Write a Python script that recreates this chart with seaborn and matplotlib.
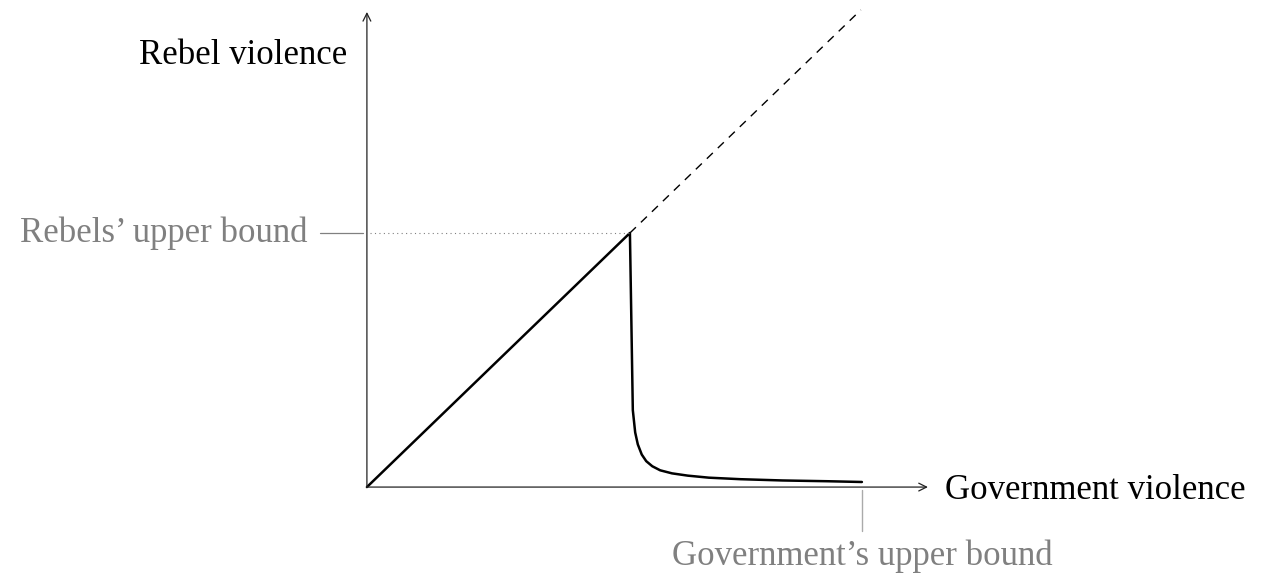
import matplotlib

matplotlib.use("Agg")

import matplotlib.pyplot as plt
import pandas as pd
import seaborn as sns

# best-response curve (government violence -> rebel violence), peak normalised to (1, 1)
gov_violence = [0.0, 1.0, 1.011, 1.020, 1.030, 1.045, 1.062, 1.085, 1.115, 1.16,
                1.22, 1.30, 1.42, 1.58, 1.75, 1.882]
rebel_violence = [0.0, 1.0, 0.303, 0.215, 0.168, 0.128, 0.102, 0.082, 0.066, 0.054,
                  0.045, 0.037, 0.031, 0.026, 0.023, 0.020]

# unconstrained continuation of the diagonal
dashed_x = [1.0, 1.878]
dashed_y = [1.0, 1.878]

rebels_bound = 1.0
gov_bound = 1.882

GRAY = "#808080"
FS = 25

sns.set_theme(style="white")
plt.rcParams["font.family"] = ["Liberation Serif", "DejaVu Serif"]

fig = plt.figure(figsize=(12.63, 5.76), dpi=100)
ax = fig.add_axes([0, 0, 1, 1])
ax.set_xlim(-1.395, 3.407)
ax.set_ylim(-0.350, 1.917)
ax.axis("off")

# axes with arrows
arrow = dict(arrowstyle="->", color="#222222", lw=0.9, shrinkA=0, shrinkB=0,
             mutation_scale=14)
ax.annotate("", xy=(2.133, 0), xytext=(0, 0), arrowprops=arrow)
ax.annotate("", xy=(0, 1.870), xytext=(0, 0), arrowprops=arrow)

# curve
curve = pd.DataFrame({"gov": gov_violence, "rebel": rebel_violence})
sns.lineplot(data=curve, x="gov", y="rebel", ax=ax, color="black", lw=1.8,
             sort=False, estimator=None)
ax.plot(dashed_x, dashed_y, color="black", lw=1.0, ls=(0, (6, 5)))

# rebels' upper bound guide
ax.plot([0.01, 1.0], [rebels_bound, rebels_bound], color=GRAY, lw=0.8, ls=(0, (1, 3)))
ax.plot([-0.179, -0.015], [rebels_bound, rebels_bound], color=GRAY, lw=0.9)
ax.text(-0.224, rebels_bound, "Rebels\u2019 upper bound", ha="right", va="center",
        fontsize=FS, color=GRAY)

# government's upper bound guide
ax.plot([gov_bound, gov_bound], [-0.012, -0.173], color="#aaaaaa", lw=1.0)
ax.text(gov_bound, -0.205, "Government\u2019s upper bound", ha="center", va="top",
        fontsize=FS, color=GRAY)

# axis labels
ax.text(-0.076, 1.70, "Rebel violence", ha="right", va="center", fontsize=FS,
        color="black")
ax.text(2.198, -0.012, "Government violence", ha="left", va="center", fontsize=FS,
        color="black")

fig.savefig("out.png", dpi=100, facecolor="white")
plt.close(fig)
